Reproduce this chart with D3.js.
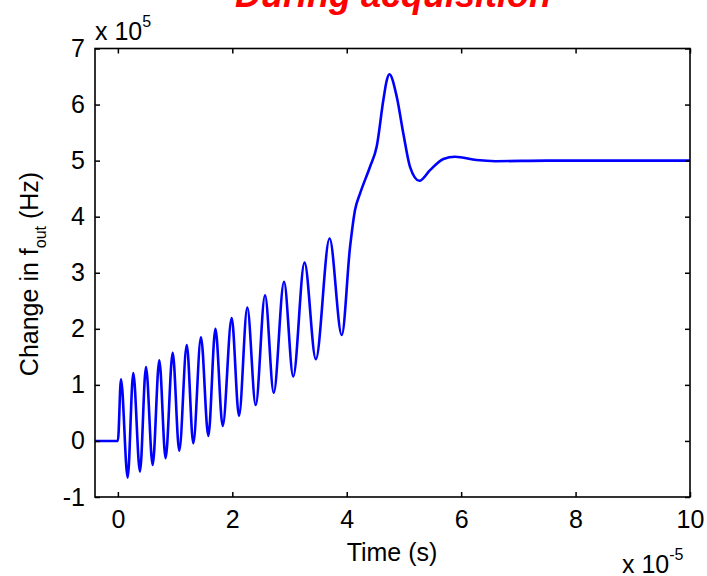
<!DOCTYPE html>
<html>
<head>
<meta charset="utf-8">
<script src="https://cdn.jsdelivr.net/npm/d3@7/dist/d3.min.js"></script>
<style>
  html, body { margin: 0; padding: 0; background: #fff; }
  svg { display: block; }
  text { font-family: "Liberation Sans", Arial, sans-serif; fill: #000; }
</style>
</head>
<body>
<svg id="chart" width="707" height="576"></svg>
<script>
// Time samples (units of 1e-5 s) and frequency change (units of 1e5 Hz)
const timeKnots = [
  -0.4, 0.0,
  0.054, 0.171, 0.269, 0.386, 0.491, 0.608, 0.724, 0.834,
  0.958, 1.073, 1.204, 1.318, 1.452, 1.581, 1.705, 1.832,
  1.989, 2.117, 2.262, 2.409, 2.572, 2.724, 2.904, 3.065,
  3.262, 3.460, 3.700, 3.913,
  4.058, 4.145, 4.232, 4.407, 4.524, 4.640, 4.699, 4.745,
  4.874, 4.990, 5.106, 5.270, 5.456, 5.690, 5.893, 6.270,
  6.600, 7.500, 10.0
];
const freqChange = [
  0, 0,
  1.10, -0.654, 1.21, -0.547, 1.32, -0.428, 1.44, -0.308,
  1.57, -0.173, 1.71, -0.041, 1.85, 0.089, 2.00, 0.267,
  2.19, 0.45, 2.38, 0.64, 2.60, 0.86, 2.84, 1.15,
  3.18, 1.46, 3.61, 1.89,
  3.46, 4.12, 4.41, 4.89, 5.25, 6.08, 6.43, 6.54,
  6.14, 5.48, 4.89, 4.64, 4.83, 5.03, 5.07, 5.01,
  4.99, 5.00, 5.00
];
const xTicks = [0, 2, 4, 6, 8, 10];
const yTicks = [-1, 0, 1, 2, 3, 4, 5, 6, 7];

const titleText = "During acquisition";
const xLabel = "Time (s)";

const svg = d3.select("#chart");
const plotL = 95, plotR = 690, plotT = 48.5, plotB = 497;

const x = d3.scaleLinear().domain([-0.4, 10]).range([plotL, plotR]);
const y = d3.scaleLinear().domain([-1, 7]).range([plotB, plotT]);

// Title
svg.append("text")
  .attr("x", 393).attr("y", 7)
  .attr("text-anchor", "middle")
  .style("font-size", "36px")
  .style("font-weight", "bold")
  .style("font-style", "italic")
  .style("fill", "#ff0000")
  .text(titleText);

// Curve
const points = timeKnots.map((t, i) => [t, freqChange[i]]);
const line = d3.line()
  .x(d => x(d[0]))
  .y(d => y(d[1]))
  .curve(d3.curveMonotoneX);

svg.append("path")
  .datum(points)
  .attr("d", line)
  .attr("fill", "none")
  .attr("stroke", "#0000ff")
  .attr("stroke-width", 2.6)
  .attr("stroke-linejoin", "round");

// Axes (inward ticks on all four sides)
const tickLen = 5;
const fontSize = "25px";
const supSize = "16px";

const gBottom = svg.append("g").attr("transform", `translate(0,${plotB})`)
  .call(d3.axisBottom(x).tickValues(xTicks).tickSizeInner(-tickLen).tickSizeOuter(0).tickPadding(13));
const gTop = svg.append("g").attr("transform", `translate(0,${plotT})`)
  .call(d3.axisTop(x).tickValues(xTicks).tickSizeInner(-tickLen).tickSizeOuter(0).tickFormat(""));
const gLeft = svg.append("g").attr("transform", `translate(${plotL},0)`)
  .call(d3.axisLeft(y).tickValues(yTicks).tickSizeInner(-tickLen).tickSizeOuter(0).tickPadding(10)
    .tickFormat(d => d < 0 ? "-" + Math.abs(d) : String(d)));
const gRight = svg.append("g").attr("transform", `translate(${plotR},0)`)
  .call(d3.axisRight(y).tickValues(yTicks).tickSizeInner(-tickLen).tickSizeOuter(0).tickFormat(""));

[gBottom, gTop, gLeft, gRight].forEach(g => {
  g.select(".domain").remove();
  g.selectAll(".tick line").attr("stroke", "#000").attr("stroke-width", 1.5);
  g.selectAll(".tick text").style("font-size", fontSize)
    .style("font-family", '"Liberation Sans", Arial, sans-serif').attr("fill", "#000");
});

// Box
svg.append("rect")
  .attr("x", plotL).attr("y", plotT)
  .attr("width", plotR - plotL).attr("height", plotB - plotT)
  .attr("fill", "none").attr("stroke", "#000").attr("stroke-width", 1.6);

// Exponent labels
const topExp = svg.append("text").attr("x", 95).attr("y", 40).style("font-size", fontSize);
topExp.append("tspan").text("x 10");
topExp.append("tspan").attr("dy", -13).style("font-size", supSize).text("5");

const botExp = svg.append("text").attr("x", 622).attr("y", 573).style("font-size", fontSize);
botExp.append("tspan").text("x 10");
botExp.append("tspan").attr("dy", -13).style("font-size", supSize).text("-5");

// Axis titles
svg.append("text")
  .attr("x", 392).attr("y", 561)
  .attr("text-anchor", "middle")
  .style("font-size", fontSize)
  .text(xLabel);

const yl = svg.append("text")
  .attr("transform", "translate(38,274) rotate(-90)")
  .attr("text-anchor", "middle")
  .style("font-size", fontSize);
yl.append("tspan").text("Change in f");
yl.append("tspan").attr("dy", 8).style("font-size", supSize).text("out");
yl.append("tspan").attr("dy", -8).text(" (Hz)");
</script>
</body>
</html>
